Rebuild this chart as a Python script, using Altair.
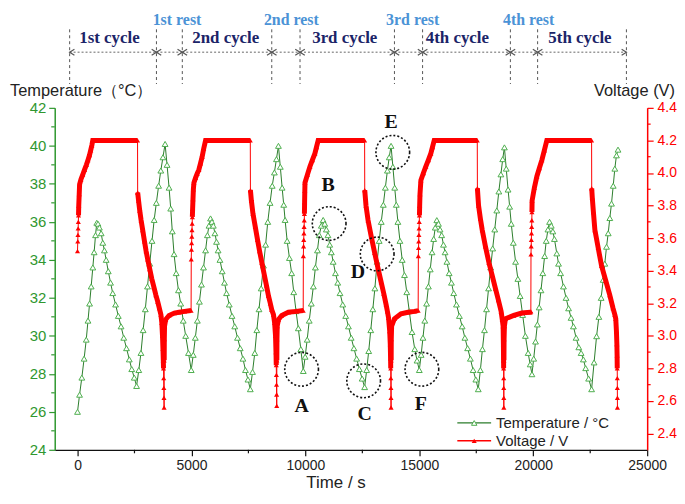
import altair as alt
import pandas as pd

# ---------------- values ----------------
# Temperature (time s, degC), one list per cycle
temp_c1 = [(0, 26.0), (90, 26.9), (190, 27.8), (290, 28.8), (384, 29.8), (460, 30.8), (530, 31.7),
           (600, 32.6), (672, 33.6), (730, 34.4), (790, 35.3), (846, 35.95),
           (900, 35.9), (960, 35.7), (1038, 35.4), (1110, 34.9), (1180, 34.5), (1257, 34.0), (1350, 33.4),
           (1450, 32.8), (1545, 32.25), (1670, 31.65), (1790, 31.05), (1911, 30.5), (2030, 29.9),
           (2150, 29.35), (2273, 28.76), (2380, 28.25), (2490, 27.8), (2592, 27.36),
           (2690, 28.2), (2784, 29.1), (2880, 30.3), (2975, 31.4), (3071, 32.6), (3170, 33.8), (3270, 35.0),
           (3364, 36.1), (3460, 37.0), (3560, 37.9), (3656, 38.7), (3750, 39.4), (3844, 40.1),
           (3930, 39.0), (4018, 37.8), (4090, 36.7), (4160, 35.5), (4237, 34.3), (4330, 33.3), (4430, 32.4),
           (4529, 31.7), (4640, 30.8), (4747, 30.0), (4870, 29.1)]
temp_c2 = [(4990, 28.2), (5080, 29.0), (5170, 29.9), (5260, 30.8), (5350, 31.8), (5440, 32.7), (5530, 33.6),
           (5620, 34.5), (5700, 35.3), (5770, 35.8), (5838, 36.18),
           (5900, 36.0), (5960, 35.8), (6030, 35.4), (6100, 34.95), (6170, 34.5), (6250, 34.0), (6350, 33.4),
           (6450, 32.8), (6540, 32.25), (6660, 31.65), (6780, 31.05), (6900, 30.5), (7020, 29.9),
           (7140, 29.35), (7260, 28.8), (7370, 28.2), (7480, 27.7), (7583, 27.19),
           (7680, 28.1), (7780, 29.1), (7870, 30.3), (7965, 31.4), (8060, 32.5), (8160, 33.7), (8255, 34.8),
           (8350, 36.0), (8450, 37.0), (8545, 37.9), (8640, 38.6), (8730, 39.3), (8818, 40.0),
           (8900, 38.9), (8980, 37.8), (9050, 36.9), (9110, 36.1), (9200, 35.0), (9300, 34.1), (9398, 33.3),
           (9490, 32.3), (9590, 31.3), (9690, 30.4), (9800, 29.3)]
temp_c3 = [(9908, 28.15), (9990, 28.9), (10080, 29.8), (10170, 30.8), (10260, 31.7), (10350, 32.6),
           (10440, 33.6), (10530, 34.5), (10610, 35.3), (10700, 35.8), (10781, 36.1),
           (10850, 35.9), (10920, 35.6), (10990, 35.3), (11070, 34.8), (11140, 34.4), (11220, 33.9),
           (11320, 33.3), (11420, 32.8), (11520, 32.25), (11640, 31.65), (11770, 31.05), (11890, 30.5),
           (12010, 29.9), (12130, 29.35), (12250, 28.8), (12370, 28.25), (12490, 27.75), (12600, 27.3),
           (12690, 28.2), (12780, 29.2), (12870, 30.3), (12960, 31.4), (13050, 32.5), (13150, 33.9),
           (13240, 35.0), (13330, 36.0), (13420, 36.9), (13510, 37.8), (13600, 38.7), (13680, 39.4),
           (13760, 40.0),
           (13840, 38.9), (13920, 37.8), (13990, 36.9), (14060, 36.0), (14150, 35.0), (14250, 34.0),
           (14350, 33.2), (14450, 32.3), (14560, 31.3), (14680, 30.2), (14800, 29.3), (14900, 28.7)]
temp_c4 = [(15000, 28.2), (15080, 29.0), (15160, 29.9), (15240, 30.8), (15320, 31.7), (15400, 32.6),
           (15480, 33.5), (15560, 34.4), (15630, 35.1), (15700, 35.7), (15768, 36.09),
           (15840, 35.9), (15910, 35.6), (15980, 35.3), (16060, 34.8), (16130, 34.4), (16210, 33.9),
           (16310, 33.3), (16410, 32.8), (16510, 32.25), (16630, 31.65), (16760, 31.05), (16880, 30.5),
           (17000, 29.9), (17120, 29.35), (17240, 28.8), (17360, 28.2), (17480, 27.7), (17587, 27.19),
           (17680, 28.2), (17770, 29.3), (17860, 30.3), (17950, 31.4), (18040, 32.5), (18130, 33.6),
           (18220, 34.6), (18310, 35.6), (18400, 36.6), (18490, 37.6), (18580, 38.5), (18660, 39.3),
           (18735, 39.92),
           (18815, 38.8), (18895, 37.7), (18965, 36.8), (19035, 35.9), (19125, 34.9), (19225, 33.9),
           (19325, 33.0), (19425, 32.1), (19535, 31.1), (19655, 30.0), (19775, 29.1), (19865, 28.5)]
temp_c5 = [(19943, 27.98), (20020, 28.8), (20100, 29.7), (20180, 30.6), (20260, 31.5), (20340, 32.4),
           (20420, 33.3), (20500, 34.2), (20570, 35.0), (20645, 35.6), (20716, 36.0),
           (20790, 35.8), (20860, 35.5), (20930, 35.1), (21034, 34.34), (21110, 33.8), (21200, 33.3),
           (21326, 32.6), (21440, 32.0), (21550, 31.45), (21660, 30.95), (21763, 30.5), (21880, 29.9),
           (22000, 29.4), (22100, 29.1), (22199, 28.76), (22300, 28.3), (22430, 27.75), (22561, 27.19),
           (22670, 28.6), (22780, 29.98), (22880, 31.0), (22980, 32.0), (23071, 32.95), (23140, 33.8),
           (23216, 34.69), (23290, 35.4), (23360, 36.2), (23434, 36.96), (23510, 37.9), (23580, 38.8),
           (23652, 39.5), (23720, 39.8)]

# Voltage (time s, V): stacked start points, charge, discharge, bottom stack, rest
v1_stack = [(0, 3.52), (12, 3.58), (20, 3.62), (28, 3.66), (36, 3.70)]
v1_charge = [(44, 3.74), (55, 3.80), (75, 3.87), (92, 3.93), (150, 3.96), (230, 3.99), (310, 4.02),
             (390, 4.05), (460, 4.08), (528, 4.11), (580, 4.14), (630, 4.17), (670, 4.20), (1200, 4.20),
             (1800, 4.20), (2635, 4.20)]
v1_dis = [(2640, 3.88), (2680, 3.83), (2730, 3.77), (2790, 3.71), (2860, 3.65), (2940, 3.58), (3010, 3.52),
          (3080, 3.47), (3170, 3.41), (3260, 3.35), (3350, 3.30), (3440, 3.25), (3520, 3.21), (3590, 3.17),
          (3660, 3.13), (3700, 3.08), (3730, 3.00), (3750, 2.92), (3765, 2.85), (3775, 2.80)]
v1_bottom = [(3782, 2.74), (3788, 2.68), (3794, 2.62), (3800, 2.56)]
v1_rest = [(3805, 2.85), (3810, 2.98), (3820, 3.06), (3870, 3.10), (4018, 3.125), (4250, 3.14),
           (4455, 3.145), (4700, 3.15), (4985, 3.155)]

v2_stack = [(4991, 3.47), (5000, 3.53), (5008, 3.57), (5016, 3.61), (5024, 3.65), (5032, 3.69)]
v2_charge = [(5040, 3.73), (5052, 3.78), (5068, 3.84), (5085, 3.90), (5109, 3.94), (5180, 3.97),
             (5250, 3.995), (5327, 4.02), (5400, 4.06), (5471, 4.10), (5540, 4.15), (5620, 4.20),
             (6300, 4.20), (7000, 4.20), (7583, 4.20)]
v2_dis = [(7588, 3.895), (7630, 3.83), (7700, 3.75), (7801, 3.67), (7900, 3.59), (7990, 3.52), (8089, 3.45),
          (8190, 3.38), (8290, 3.31), (8381, 3.245), (8460, 3.20), (8525, 3.16), (8600, 3.13), (8650, 3.08),
          (8690, 3.00), (8710, 2.90), (8722, 2.82)]
v2_bottom = [(8728, 2.76), (8733, 2.70), (8738, 2.64), (8743, 2.57)]
v2_rest = [(8748, 2.85), (8753, 2.98), (8765, 3.06), (8820, 3.10), (8962, 3.125), (9254, 3.145),
           (9600, 3.15), (9905, 3.155)]

v3_stack = [(9911, 3.49), (9920, 3.55), (9928, 3.59), (9936, 3.63), (9944, 3.67), (9952, 3.71)]
v3_charge = [(9958, 3.75), (9966, 3.82), (9975, 3.89), (9983, 3.94), (10090, 3.99), (10201, 4.04),
             (10310, 4.08), (10419, 4.12), (10490, 4.16), (10562, 4.20), (11300, 4.20), (12000, 4.20),
             (12600, 4.20)]
v3_dis = [(12605, 3.895), (12660, 3.80), (12750, 3.71), (12890, 3.61), (13040, 3.51), (13180, 3.42),
          (13325, 3.33), (13440, 3.26), (13545, 3.19), (13600, 3.15), (13650, 3.11), (13700, 3.03),
          (13725, 2.95), (13740, 2.86), (13746, 2.80)]
v3_bottom = [(13750, 2.74), (13754, 2.68), (13757, 2.62), (13760, 2.56)]
v3_rest = [(13765, 2.85), (13770, 2.98), (13785, 3.06), (13909, 3.105), (14197, 3.135), (14500, 3.145),
           (14782, 3.15), (14950, 3.155)]

v4_stack = [(14958, 3.49), (14966, 3.54), (14974, 3.58), (14982, 3.62), (14990, 3.66), (14998, 3.70)]
v4_charge = [(15006, 3.74), (15016, 3.80), (15030, 3.87), (15070, 3.955), (15180, 4.00), (15288, 4.04),
             (15400, 4.08), (15506, 4.12), (15580, 4.16), (15654, 4.20), (16300, 4.20), (17000, 4.20),
             (17544, 4.20)]
v4_dis = [(17549, 3.906), (17600, 3.80), (17680, 3.72), (17761, 3.65), (17900, 3.55), (18054, 3.45),
          (18200, 3.37), (18342, 3.29), (18470, 3.22), (18591, 3.15), (18640, 3.10), (18678, 3.06),
          (18690, 2.95), (18698, 2.85), (18701, 2.80)]
v4_bottom = [(18703, 2.74), (18705, 2.68), (18707, 2.62), (18709, 2.56)]
v4_rest = [(18714, 2.85), (18720, 2.98), (18735, 3.06), (18779, 3.105), (19145, 3.125), (19500, 3.14),
           (19869, 3.145), (19895, 3.15)]

v5_stack = [(19901, 3.50), (19910, 3.55), (19917, 3.59), (19924, 3.63), (19931, 3.67), (19938, 3.71)]
v5_charge = [(19943, 3.76), (19950, 3.83), (20050, 3.91), (20161, 3.98), (20270, 4.03), (20380, 4.08),
             (20490, 4.14), (20596, 4.20), (21300, 4.20), (22000, 4.20), (22561, 4.20)]
v5_dis = [(22566, 3.906), (22590, 3.85), (22640, 3.76), (22705, 3.65), (22850, 3.54), (22997, 3.43),
          (23180, 3.34), (23359, 3.25), (23500, 3.17), (23580, 3.13), (23621, 3.105), (23650, 3.03),
          (23670, 2.95), (23680, 2.88), (23686, 2.80)]
v5_bottom = [(23689, 2.74), (23691, 2.68), (23693, 2.62), (23695, 2.56)]
v5_rest = []

# axes
time_ticks = [0, 5000, 10000, 15000, 20000, 25000]
time_minor = [2500, 7500, 12500, 17500, 22500]
temp_ticks = [24, 26, 28, 30, 32, 34, 36, 38, 40, 42]
temp_minor = [25, 27, 29, 31, 33, 35, 37, 39, 41]
volt_ticks = [2.4, 2.6, 2.8, 3.0, 3.2, 3.4, 3.6, 3.8, 4.0, 4.2, 4.4]
volt_minor = [2.5, 2.7, 2.9, 3.1, 3.3, 3.5, 3.7, 3.9, 4.1, 4.3]

# phase annotations above the plot (time of the dashed separators)
phase_bounds = [-345, 3464, 4599, 8525, 9765, 13909, 15144, 18997, 20192, 24089]
cycle_labels = ["1st cycle", "2nd cycle", "3rd cycle", "4th cycle", "5th cycle"]
cycle_label_t = [1400, 6505, 11728, 16671, 22051]
rest_labels = ["1st rest", "2nd rest", "3rd rest", "4th rest"]
rest_label_t = [4367, 9385, 14708, 19799]

# marked points A-F
point_labels = ["A", "B", "C", "D", "E", "F"]
point_circle_t = [9834, 11043, 12557, 13150, 13835, 15113]
point_circle_T = [28.24, 35.91, 27.63, 34.31, 39.66, 28.24]
point_label_t = [9834, 11000, 12600, 12308, 13760, 15070]
point_label_T = [26.32, 37.92, 25.88, 33.38, 41.27, 26.41]

legend_labels = ["Temperature / \u00b0C", "Voltage / V"]
left_title = "Temperature\uff08\u00b0C\uff09"
right_title = "Voltage (V)"
x_title = "Time / s"

# ---------------- build tables ----------------
temp_df = pd.DataFrame(temp_c1 + temp_c2 + temp_c3 + temp_c4 + temp_c5, columns=["t", "T"])

cycles = [
    (v1_stack, v1_charge, v1_dis, v1_bottom, v1_rest),
    (v2_stack, v2_charge, v2_dis, v2_bottom, v2_rest),
    (v3_stack, v3_charge, v3_dis, v3_bottom, v3_rest),
    (v4_stack, v4_charge, v4_dis, v4_bottom, v4_rest),
    (v5_stack, v5_charge, v5_dis, v5_bottom, v5_rest),
]
all_rows, thick_rows = [], []
for i, (st, ch, di, bo, re_) in enumerate(cycles):
    for part in (st, ch, di, bo, re_):
        all_rows += part
    for name, part in (("c", ch), ("d", di), ("r", re_)):
        thick_rows += [(t, v, f"{name}{i}") for t, v in part]
volt_all = pd.DataFrame(all_rows, columns=["t", "V"]).sort_values("t")
volt_thick = pd.DataFrame(thick_rows, columns=["t", "V", "seg"])

GREEN = "#2f972f"
T_LINE = "#2b7d2b"
T_MARK = "#4fae4f"
RED = "#ff0000"
NAVY = "#1b2468"
LBLUE = "#4b93d6"
SANS = "Liberation Sans"
SERIF = "Liberation Serif"

x_scale = alt.Scale(domain=[-1000, 25000], nice=False, zero=False)
temp_scale = alt.Scale(domain=[24, 42], nice=False, zero=False)
volt_scale = alt.Scale(domain=[2.3, 4.4], nice=False, zero=False)

x_axis = alt.Axis(values=time_ticks, format="d", tickSize=6, tickWidth=1.2, tickColor="#111",
                  domainColor="#111", domainWidth=1.3, labelColor="#222", labelFont=SANS,
                  labelFontSize=14, labelPadding=3, labelFlush=False, grid=False, title=None)
left_axis = alt.Axis(values=temp_ticks, tickSize=6, tickWidth=1.2, tickColor=GREEN, domainColor=GREEN,
                     domainWidth=1.5, labelColor=GREEN, labelFont=SANS, labelFontSize=15, labelPadding=3,
                     labelFlush=False, grid=False, title=None)
right_axis = alt.Axis(values=volt_ticks, format=".1f", orient="right", tickSize=6, tickWidth=1.2,
                      tickColor=RED, domainColor=RED, domainWidth=1.5, labelColor=RED, labelFont=SANS,
                      labelFontSize=14, labelPadding=4, labelFlush=False, grid=False, title=None)

X = alt.X("t:Q", scale=x_scale, axis=x_axis)
YT = alt.Y("T:Q", scale=temp_scale, axis=left_axis)
YV = alt.Y("V:Q", scale=volt_scale, axis=right_axis)

# ---------------- temperature layer ----------------
t_line = alt.Chart(temp_df).mark_line(color=T_LINE, strokeWidth=1).encode(x=X, y=YT)
t_pts = alt.Chart(temp_df).mark_point(shape="triangle-up", size=34, stroke=T_MARK, fill="white",
                                      fillOpacity=1, strokeWidth=1, opacity=1).encode(x=X, y=YT)
t_minor = alt.Chart(pd.DataFrame({"T": temp_minor})).mark_rule(color=GREEN, strokeWidth=1.2).encode(
    y=YT, x=alt.value(0), x2=alt.value(-3.5))
x_minor = alt.Chart(pd.DataFrame({"t": time_minor})).mark_rule(color="#111", strokeWidth=1.2).encode(
    x=X, y=alt.value(344), y2=alt.value(347.5))
temp_layer = alt.layer(t_line, t_pts, t_minor, x_minor)

# ---------------- voltage layer ----------------
v_thin = alt.Chart(volt_all).mark_line(color=RED, strokeWidth=1).encode(x=X, y=YV)
v_thick = alt.Chart(volt_thick).mark_line(color=RED, strokeWidth=5).encode(x=X, y=YV, detail="seg:N")
v_pts = alt.Chart(volt_all).mark_point(shape="triangle-up", size=26, filled=True, color=RED,
                                       opacity=1).encode(x=X, y=YV)
v_minor = alt.Chart(pd.DataFrame({"V": volt_minor})).mark_rule(color=RED, strokeWidth=1.2).encode(
    y=YV, x=alt.value(596), x2=alt.value(599.5))
volt_layer = alt.layer(v_thin, v_thick, v_pts, v_minor)

# ---------------- annotations ----------------
YA = alt.Y("T:Q", scale=temp_scale, axis=None)
circ_df = pd.DataFrame({"t": point_circle_t, "T": point_circle_T})
circles = alt.Chart(circ_df).mark_point(shape="circle", size=1150, filled=False, color="#111",
                                        strokeWidth=1.6, strokeDash=[2, 2], opacity=1).encode(x=X, y=YA)
lab_df = pd.DataFrame({"t": point_label_t, "T": point_label_T, "label": point_labels})
letters = alt.Chart(lab_df).mark_text(font=SERIF, fontWeight="bold", fontSize=20, color="#111",
                                      baseline="middle").encode(x=X, y=YA, text="label:N")

bounds_df = pd.DataFrame({"t": phase_bounds})
vlines = alt.Chart(bounds_df).mark_rule(color="#555", strokeDash=[3, 3], strokeWidth=1).encode(
    x=X, y=alt.value(-79), y2=alt.value(-24))
seg_df = pd.DataFrame({"t": phase_bounds[:-1], "t2": phase_bounds[1:]})
hlines = alt.Chart(seg_df).mark_rule(color="#666", strokeDash=[2, 2], strokeWidth=1).encode(
    x=X, x2="t2:Q", y=alt.value(-56))
left_chev = alt.Chart(seg_df).mark_point(shape="M 1.6 -1 L 0 0 L 1.6 1", size=36, filled=False,
                                         color="#555", strokeWidth=1.2, opacity=1).encode(
    x=X, y=alt.value(-56))
right_chev = alt.Chart(seg_df).mark_point(shape="M -1.6 -1 L 0 0 L -1.6 1", size=36, filled=False,
                                          color="#555", strokeWidth=1.2, opacity=1).encode(
    x=alt.X("t2:Q", scale=x_scale, axis=x_axis), y=alt.value(-56))
cyc_text = alt.Chart(pd.DataFrame({"t": cycle_label_t, "label": cycle_labels})).mark_text(
    font=SERIF, fontWeight="bold", fontSize=17, color=NAVY, baseline="middle").encode(
    x=X, y=alt.value(-70), text="label:N")
rest_text = alt.Chart(pd.DataFrame({"t": rest_label_t, "label": rest_labels})).mark_text(
    font=SERIF, fontWeight="bold", fontSize=16, color=LBLUE, baseline="middle").encode(
    x=X, y=alt.value(-88), text="label:N")

one = pd.DataFrame({"k": [0]})
ltitle = alt.Chart(one).mark_text(text=left_title, font=SANS, fontSize=16.5, color="#222", align="left",
                                  baseline="middle").encode(x=alt.value(-45), y=alt.value(-17))
rtitle = alt.Chart(one).mark_text(text=right_title, font=SANS, fontSize=16.5, color="#222", align="right",
                                  baseline="middle").encode(x=alt.value(624), y=alt.value(-17))
xtitle = alt.Chart(one).mark_text(text=x_title, font=SANS, fontSize=17, color="#222", align="center",
                                  baseline="middle").encode(x=alt.value(283), y=alt.value(377))

# legend (drawn by hand, lower right inside the plot)
leg_t_line = alt.Chart(one).mark_rule(color=T_LINE, strokeWidth=1.2).encode(
    x=alt.value(405), x2=alt.value(439), y=alt.value(317))
leg_t_pt = alt.Chart(one).mark_point(shape="triangle-up", size=30, stroke=T_MARK, fill="white",
                                     fillOpacity=1, strokeWidth=1, opacity=1).encode(
    x=alt.value(422), y=alt.value(317))
leg_v_line = alt.Chart(one).mark_rule(color=RED, strokeWidth=1.5).encode(
    x=alt.value(405), x2=alt.value(439), y=alt.value(335))
leg_v_pt = alt.Chart(one).mark_point(shape="triangle-up", size=26, filled=True, color=RED,
                                     opacity=1).encode(x=alt.value(422), y=alt.value(335))
leg_t_txt = alt.Chart(one).mark_text(text=legend_labels[0], font=SANS, fontSize=15, color="#222",
                                     align="left", baseline="middle").encode(x=alt.value(444), y=alt.value(317))
leg_v_txt = alt.Chart(one).mark_text(text=legend_labels[1], font=SANS, fontSize=15, color="#222",
                                     align="left", baseline="middle").encode(x=alt.value(444), y=alt.value(335))

annot_layer = alt.layer(circles, letters, vlines, hlines, left_chev, right_chev, cyc_text, rest_text,
                        ltitle, rtitle, xtitle, leg_t_line, leg_t_pt, leg_v_line, leg_v_pt,
                        leg_t_txt, leg_v_txt)

chart = (
    alt.layer(temp_layer, volt_layer, annot_layer)
    .resolve_scale(y="independent")
    .properties(width=596, height=344, background="white",
                autosize=alt.AutoSizeParams(type="none"),
                padding={"left": 47, "top": 99, "right": 30, "bottom": 41})
    .configure_view(stroke=None)
)

chart.save("out.html", embed_options={"renderer": "svg", "actions": False})
